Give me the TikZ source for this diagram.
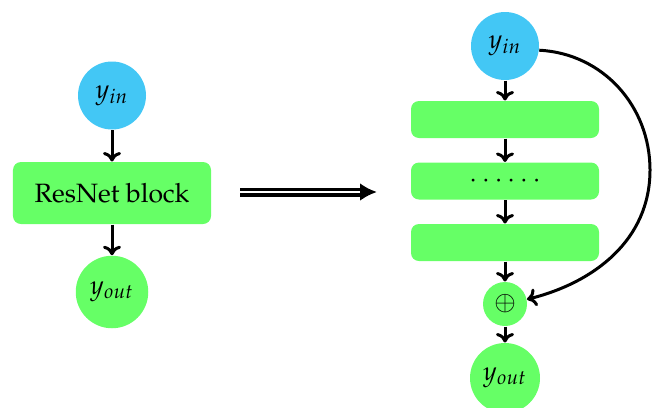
\documentclass[tikz,border=0pt]{standalone}
\usepackage[T1]{fontenc}
\usepackage{mathpazo}
\usetikzlibrary{arrows.meta}
\definecolor{inblue}{RGB}{67,199,245}
\definecolor{blkgreen}{RGB}{102,255,102}
\begin{document}
\begin{tikzpicture}[x=0.4pt,y=0.4pt,
  every node/.style={font=\fontsize{10.6}{12.7}\selectfont},
  incircle/.style={circle,fill=inblue,inner sep=0pt,minimum size=27.2pt},
  outcircle/.style={circle,fill=blkgreen,inner sep=0pt},
  bigblock/.style={rectangle,rounded corners=3.2pt,fill=blkgreen,minimum width=79.2pt,minimum height=24.8pt,inner sep=0pt},
  smallblock/.style={rectangle,rounded corners=3.2pt,fill=blkgreen,minimum width=75.2pt,minimum height=14.8pt,inner sep=0pt},
  conn/.style={line width=1.2pt,-{To[length=3.8pt,width=7.2pt]}},
  implarrow/.style={line width=1.4pt,double distance=0.8pt,-{Latex[length=6.8pt,width=7.2pt]}}]
\useasboundingbox (0,0) rectangle (652,-407);
% left
\node[incircle] (yin1) at (112,-95.5) {$y_{in}$};
\node[bigblock] (res) at (112,-193) {ResNet block};
\node[outcircle,minimum size=29pt] (yout1) at (112,-292) {$y_{out}$};
\draw[conn] (yin1) -- (res);
\draw[conn] (res) -- (yout1);
% double arrow
\coordinate (da) at (240,-192);
\coordinate (db) at (377,-192);
\draw[implarrow] (da) -- (db);
% right
\node[incircle] (yin2) at (505,-46) {$y_{in}$};
\node[smallblock] (b1) at (505,-119.5) {};
\node[smallblock] (b2) at (505,-181) {$\cdots\cdots$};
\node[smallblock] (b3) at (505,-242.5) {};
\node[outcircle,minimum size=17.6pt] (plus) at (505,-304) {$\oplus$};
\node[outcircle,minimum size=28pt] (yout2) at (505,-378) {$y_{out}$};
\draw[conn] (yin2) -- (b1);
\draw[conn] (b1) -- (b2);
\draw[conn] (b2) -- (b3);
\draw[conn] (b3) -- (plus);
\draw[conn] (plus) -- (yout2);
\coordinate (peak) at (650,-170);
\draw[conn] (yin2.-7) to[out=-3,in=90,looseness=1] (peak)
  to[out=-90,in=14,looseness=1] (plus.12);
\end{tikzpicture}
\end{document}
